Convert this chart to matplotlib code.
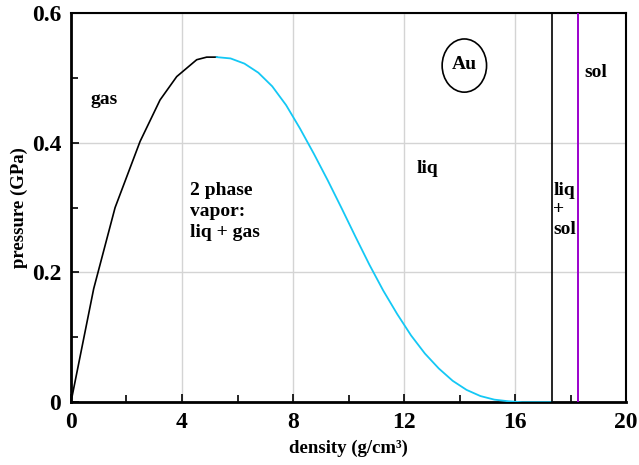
import matplotlib
matplotlib.use("Agg")
import matplotlib.pyplot as plt
from matplotlib.patches import Ellipse
import numpy as np

plt.rcParams.update({
    "font.family": "Liberation Serif", "font.weight": "bold",
})

# gas-side branch of the 2-phase dome (black)
gas_rho = [0.0, 0.82, 1.59, 2.49, 3.21, 3.81, 4.53, 4.89, 5.25]
gas_p = [0.0, 0.175, 0.300, 0.402, 0.466, 0.502, 0.528, 0.532, 0.532]

# liquid-side branch (cyan)
liq_rho = [5.25, 5.75, 6.25, 6.75, 7.25, 7.75, 8.25, 8.75, 9.25, 9.75, 10.25,
           10.75, 11.25, 11.75, 12.25, 12.75, 13.25, 13.75, 14.25, 14.75,
           15.25, 15.75, 16.25, 17.32]
liq_p = [0.532, 0.530, 0.522, 0.508, 0.487, 0.458, 0.422, 0.383, 0.342, 0.299,
         0.255, 0.212, 0.172, 0.136, 0.103, 0.075, 0.052, 0.033, 0.019, 0.0095,
         0.004, 0.0015, 0.0, 0.0]

melt_rho = 17.32   # liquidus (black vertical)
solid_rho = 18.28  # solidus (purple vertical)

fig, ax = plt.subplots(figsize=(6.39, 4.65), dpi=100)
fig.subplots_adjust(left=0.111, right=0.98, top=0.972, bottom=0.135)

ax.plot(gas_rho, gas_p, color="black", lw=1.2, zorder=3)
ax.plot(liq_rho, liq_p, color="#14C8F5", lw=1.3, zorder=3)
ax.axvline(melt_rho, color="black", lw=1.2, zorder=3)
ax.axvline(solid_rho, color="#9B00CC", lw=1.4, zorder=3)

ax.set_xlim(0, 20)
ax.set_ylim(0, 0.6)
ax.set_xticks([0, 4, 8, 12, 16, 20])
ax.set_xticklabels(["0", "4", "8", "12", "16", "20"])
ax.set_yticks([0, 0.2, 0.4, 0.6])
ax.set_yticklabels(["0", "0.2", "0.4", "0.6"])
ax.set_xticks(np.arange(2, 20, 4), minor=True)
ax.set_yticks([0.1, 0.3, 0.5], minor=True)
ax.grid(which="major", color="#D4D4D4", lw=1, zorder=0)
ax.tick_params(which="major", direction="in", length=6, width=1.2,
               labelsize=17, pad=7, top=False, right=False)
ax.tick_params(which="minor", direction="in", length=5, width=1.2,
               top=False, right=False)
for lab in ax.get_xticklabels() + ax.get_yticklabels():
    lab.set_fontweight("bold")
ax.spines["left"].set_linewidth(2)
ax.spines["bottom"].set_linewidth(2)
ax.spines["top"].set_linewidth(1.5)
ax.spines["right"].set_linewidth(1.5)

ax.set_xlabel("density (g/cm³)", fontsize=13.5, fontweight="bold", labelpad=5)
ax.set_ylabel("pressure (GPa)", fontsize=13.5, fontweight="bold", labelpad=3)

fs = 14
ax.text(0.7, 0.466, "gas", fontsize=fs, va="center")
ax.text(4.3, 0.340, "2 phase\nvapor:\nliq + gas", fontsize=fs, va="top",
        linespacing=1.32)
ax.text(12.45, 0.360, "liq", fontsize=fs, va="center")
ax.text(17.38, 0.340, "liq\n+\nsol", fontsize=fs, va="top", linespacing=1.2)
ax.text(18.5, 0.508, "sol", fontsize=fs, va="center")
ax.text(14.17, 0.520, "Au", fontsize=fs, ha="center", va="center")
ax.add_patch(Ellipse((14.17, 0.519), 1.6, 0.082, fill=False, lw=1.2,
                     edgecolor="black"))

fig.savefig("out.png", dpi=100)
